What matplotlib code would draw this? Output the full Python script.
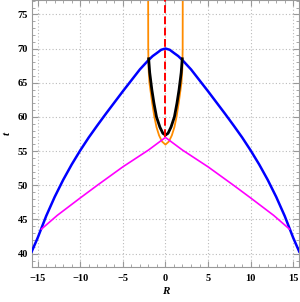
import numpy as np
import matplotlib
matplotlib.use("Agg")
import matplotlib.pyplot as plt
from matplotlib.ticker import MultipleLocator

# values (right half, mirrored for the left half)
blue_R = [0, 0.5, 1, 1.5, 2, 3, 4, 5, 6, 7, 8, 9, 10, 11, 12, 13, 14, 15, 15.7]
blue_t = [70.0, 69.82, 69.35, 68.9, 68.3, 66.95, 65.35, 63.75, 62.1, 60.45,
          58.75, 57.0, 55.1, 53.05, 50.8, 48.3, 45.5, 42.3, 40.3]

mag_R = [0, 2, 5, 8, 10, 12.7, 14.55]
mag_t = [57.0, 55.15, 52.7, 50.0, 48.15, 45.6, 43.6]

orange_R = [2.03, 2.02, 1.98, 1.88, 1.75, 1.55, 1.3, 1.05, 0.75, 0.4, 0]
orange_t = [77.5, 70.0, 67.0, 65.0, 63.8, 62.0, 60.0, 58.5, 57.3, 56.4, 55.95]

black_R = [1.97, 1.85, 1.6, 1.35, 1.05, 0.65, 0.3, 0]
black_t = [68.5, 66.5, 64.0, 62.0, 60.0, 58.5, 57.6, 57.35]

red_t = [57.0, 77.5]


def mirror(r, t):
    r = np.asarray(r, float)
    t = np.asarray(t, float)
    if r[0] > r[-1]:
        r, t = r[::-1], t[::-1]
    # r now goes 0 -> outward
    return np.concatenate([-r[::-1], r[1:]]), np.concatenate([t[::-1], t[1:]])


plt.rcParams['font.family'] = ['Liberation Serif', 'DejaVu Serif']

fig = plt.figure(figsize=(3.0, 3.02), dpi=100)
ax = fig.add_axes([0.107, 0.117, 0.889, 0.883])

r, t = mirror(blue_R, blue_t)
ax.plot(r, t, color='#0000ff', lw=1.8, zorder=3)
r, t = mirror(mag_R, mag_t)
ax.plot(r, t, color='#ff00ff', lw=1.2, zorder=3)
r, t = mirror(orange_R, orange_t)
ax.plot(r, t, color='#ff8c00', lw=1.3, zorder=2)
r, t = mirror(black_R, black_t)
ax.plot(r, t, color='black', lw=2.0, zorder=4)
ax.plot([0, 0], red_t, color='#ff0000', lw=1.4, ls=(0, (4, 1.8)), zorder=5)

ax.set_xlim(-15.65, 15.65)
ax.set_ylim(38.1, 77.1)
ax.xaxis.set_major_locator(MultipleLocator(5))
ax.xaxis.set_minor_locator(MultipleLocator(1))
ax.yaxis.set_major_locator(MultipleLocator(5))
ax.yaxis.set_minor_locator(MultipleLocator(1))

ax.grid(True, which='major', color='#bbbbbb', ls=(0, (1, 2)), lw=0.8)
ax.tick_params(which='both', direction='in', top=True, right=True,
               color='#999999', labelsize=7.5)
ax.tick_params(axis='x', pad=5)
ax.tick_params(axis='y', pad=3)
ax.tick_params(which='major', length=4)
ax.tick_params(which='minor', length=2)
for s in ax.spines.values():
    s.set_color('#999999')

ax.set_xticks([-15, -10, -5, 0, 5, 10, 15])
ax.set_xticklabels(['\u221215', '\u221210', '\u22125', '0', '5', '10', '15'],
                   fontweight='bold')
ax.set_yticks([40, 45, 50, 55, 60, 65, 70, 75])
ax.set_yticklabels(['40', '45', '50', '55', '60', '65', '70', '75'],
                   fontweight='bold')

ax.set_xlabel('R', fontsize=8, fontweight='bold', fontstyle='italic', labelpad=3)
ax.set_ylabel('t', fontsize=8, fontweight='bold', fontstyle='italic', labelpad=4)

fig.savefig('out.png', dpi=100)
